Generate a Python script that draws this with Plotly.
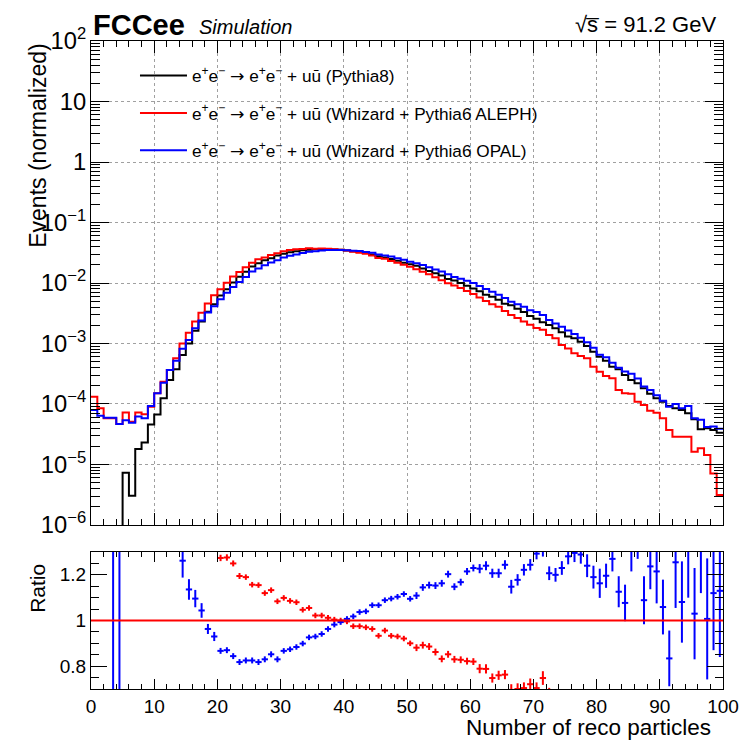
import plotly.graph_objects as go

# Number of reconstructed particles: 100 unit-width bins from 0 to 100
edges = list(range(0, 101))

# Normalized event fractions per bin
pythia8 = [
    0, 0, 0, 0, 0, 7.3e-6, 3.05e-6, 1.8e-5, 2.3e-5, 4.6e-5,
    6.7e-5, 1.24e-4, 2.49e-4, 3.74e-4, 6.46e-4, 1.0e-3, 1.63e-3, 2.3e-3, 3.36e-3, 4.44e-3,
    6.2e-3, 7.9e-3, 1.02e-2, 1.27e-2, 1.53e-2, 1.875e-2, 2.13e-2, 2.37e-2, 2.56e-2, 2.85e-2,
    3.05e-2, 3.22e-2, 3.35e-2, 3.47e-2, 3.55e-2, 3.61e-2, 3.64e-2, 3.63e-2, 3.59e-2, 3.53e-2,
    3.45e-2, 3.35e-2, 3.25e-2, 3.12e-2, 2.97e-2, 2.78e-2, 2.63e-2, 2.49e-2, 2.33e-2, 2.17e-2,
    2.05e-2, 1.92e-2, 1.73e-2, 1.58e-2, 1.45e-2, 1.33e-2, 1.16e-2, 1.10e-2, 1.0e-2, 8.97e-3,
    8.1e-3, 7.3e-3, 6.4e-3, 5.95e-3, 5.3e-3, 4.53e-3, 4.27e-3, 3.77e-3, 3.3e-3, 2.84e-3,
    2.56e-3, 2.25e-3, 2.03e-3, 1.79e-3, 1.54e-3, 1.30e-3, 1.22e-3, 1.07e-3, 9.1e-4, 7.33e-4,
    6.06e-4, 5.2e-4, 4.14e-4, 3.74e-4, 3.01e-4, 2.49e-4, 2.2e-4, 1.82e-4, 1.47e-4, 1.24e-4,
    1.09e-4, 9.27e-5, 8.47e-5, 7.96e-5, 7.0e-5, 5.58e-5, 3.81e-5, 3.96e-5, 3.72e-5, 3.36e-5,
]

whizard_aleph = [
    1.32e-4, 8.5e-5, 5.8e-5, 5.8e-5, 4.67e-5, 7.2e-5, 5.1e-5, 7.2e-5, 6.75e-5, 9.0e-5,
    1.5e-4, 2.34e-4, 3.65e-4, 5.69e-4, 1.0e-3, 1.51e-3, 2.3e-3, 3.23e-3, 4.6e-3, 6.3e-3,
    7.9e-3, 1.01e-2, 1.275e-2, 1.52e-2, 1.82e-2, 2.17e-2, 2.46e-2, 2.65e-2, 2.9e-2, 3.09e-2,
    3.35e-2, 3.50e-2, 3.62e-2, 3.63e-2, 3.75e-2, 3.69e-2, 3.72e-2, 3.67e-2, 3.60e-2, 3.53e-2,
    3.44e-2, 3.27e-2, 3.17e-2, 3.03e-2, 2.86e-2, 2.59e-2, 2.51e-2, 2.32e-2, 2.17e-2, 2.0e-2,
    1.85e-2, 1.69e-2, 1.54e-2, 1.40e-2, 1.25e-2, 1.11e-2, 9.9e-3, 9.1e-3, 8.3e-3, 7.4e-3,
    6.6e-3, 5.76e-3, 5.04e-3, 4.45e-3, 4.03e-3, 3.46e-3, 2.97e-3, 2.64e-3, 2.32e-3, 2.05e-3,
    1.80e-3, 1.68e-3, 1.38e-3, 1.22e-3, 9.4e-4, 8.3e-4, 6.88e-4, 6.21e-4, 5.69e-4, 4.14e-4,
    3.42e-4, 2.9e-4, 2.66e-4, 1.7e-4, 1.5e-4, 1.47e-4, 1.09e-4, 9.6e-5, 7.76e-5, 7.19e-5,
    5.8e-5, 3.72e-5, 2.88e-5, 2.88e-5, 2.88e-5, 1.63e-5, 1.85e-5, 1.44e-5, 7.1e-6, 3.13e-6,
]

whizard_opal = [
    7.96e-5, 6.4e-5, 5.9e-5, 5.9e-5, 4.67e-5, 5.4e-5, 4.9e-5, 6.2e-5, 5.8e-5, 9.3e-5,
    1.5e-4, 2.25e-4, 3.65e-4, 5.2e-4, 8.15e-4, 1.14e-3, 1.79e-3, 2.4e-3, 3.24e-3, 4.13e-3,
    5.38e-3, 6.87e-3, 8.6e-3, 1.04e-2, 1.26e-2, 1.55e-2, 1.74e-2, 1.97e-2, 2.18e-2, 2.37e-2,
    2.64e-2, 2.81e-2, 2.96e-2, 3.12e-2, 3.29e-2, 3.36e-2, 3.43e-2, 3.50e-2, 3.52e-2, 3.50e-2,
    3.47e-2, 3.41e-2, 3.37e-2, 3.24e-2, 3.17e-2, 2.97e-2, 2.86e-2, 2.73e-2, 2.57e-2, 2.42e-2,
    2.24e-2, 2.13e-2, 1.98e-2, 1.82e-2, 1.67e-2, 1.55e-2, 1.40e-2, 1.26e-2, 1.17e-2, 1.09e-2,
    9.96e-3, 8.96e-3, 7.94e-3, 7.18e-3, 6.4e-3, 5.64e-3, 4.9e-3, 4.44e-3, 4.03e-3, 3.53e-3,
    3.31e-3, 2.95e-3, 2.45e-3, 2.15e-3, 1.9e-3, 1.64e-3, 1.44e-3, 1.24e-3, 1.05e-3, 8.5e-4,
    6.5e-4, 5.95e-4, 4.8e-4, 3.97e-4, 3.45e-4, 3.15e-4, 2.65e-4, 1.95e-4, 1.7e-4, 1.4e-4,
    1.13e-4, 9.0e-5, 1.0e-4, 8.5e-5, 9.3e-5, 5.8e-5, 5.5e-5, 4.15e-5, 4.25e-5, 3.9e-5,
]

# Ratios to Pythia8 (None where the point is not shown)
N = None
ratio_aleph = [
    N, N, N, N, N, N, N, N, N, N,
    N, N, N, N, N, N, N, N, N, N,
    1.274, 1.276, 1.25, 1.195, 1.19, 1.157, 1.155, 1.12, 1.133, 1.084,
    1.099, 1.086, 1.08, 1.047, 1.055, 1.022, 1.022, 1.012, 1.004, 1.0,
    0.996, 0.975, 0.975, 0.970, 0.963, 0.933, 0.956, 0.933, 0.930, 0.921,
    0.90, 0.881, 0.892, 0.886, 0.862, 0.832, 0.852, 0.830, 0.828, 0.822,
    0.82, 0.789, 0.788, 0.748, 0.76, 0.763, 0.696, 0.70, 0.704, 0.721,
    0.704, 0.748, 0.68, N, N, N, N, N, N, N,
    N, N, N, N, N, N, N, N, N, N,
    N, N, N, N, N, N, N, N, N, N,
]
ratio_aleph_err = [
    0, 0, 0, 0, 0, 0, 0, 0, 0, 0,
    0, 0, 0, 0, 0, 0, 0, 0, 0, 0,
    0.014, 0.014, 0.013, 0.013, 0.012, 0.012, 0.012, 0.012, 0.012, 0.012,
    0.012, 0.012, 0.012, 0.012, 0.012, 0.012, 0.012, 0.012, 0.012, 0.012,
    0.012, 0.012, 0.012, 0.012, 0.012, 0.012, 0.012, 0.012, 0.012, 0.012,
    0.012, 0.015, 0.015, 0.015, 0.015, 0.015, 0.015, 0.015, 0.015, 0.015,
    0.015, 0.02, 0.02, 0.02, 0.02, 0.02, 0.025, 0.025, 0.025, 0.025,
    0.025, 0.03, 0.025, 0, 0, 0, 0, 0, 0, 0,
    0, 0, 0, 0, 0, 0, 0, 0, 0, 0,
    0, 0, 0, 0, 0, 0, 0, 0, 0, 0,
]

ratio_opal = [
    N, N, N, 200, 200, N, N, N, N, N,
    N, N, N, N, 1.262, 1.136, 1.096, 1.044, 0.963, 0.930,
    0.867, 0.870, 0.844, 0.818, 0.825, 0.825, 0.818, 0.830, 0.852, 0.830,
    0.867, 0.874, 0.884, 0.899, 0.926, 0.930, 0.941, 0.963, 0.982, 0.993,
    1.007, 1.018, 1.037, 1.040, 1.067, 1.067, 1.089, 1.096, 1.104, 1.116,
    1.095, 1.109, 1.145, 1.155, 1.153, 1.163, 1.203, 1.148, 1.168, 1.215,
    1.23, 1.227, 1.24, 1.207, 1.207, 1.244, 1.148, 1.178, 1.222, 1.244,
    1.293, 1.31, 1.207, 1.2, 1.23, 1.281, 1.296, 1.289, 1.24, 1.19,
    1.163, 1.196, 1.27, 1.126, 1.077, 1.33, 1.36, 1.089, 1.237, 1.215,
    1.059, 0.834, 1.255, 1.081, 1.33, 1.03, 1.35, 1.007, 1.12, 1.13,
]
ratio_opal_err = [
    0, 0, 0, 200, 200, 0, 0, 0, 0, 0,
    0, 0, 0, 0, 0.074, 0.045, 0.038, 0.032, 0.022, 0.02,
    0.013, 0.013, 0.013, 0.013, 0.013, 0.013, 0.013, 0.013, 0.013, 0.013,
    0.012, 0.012, 0.012, 0.012, 0.012, 0.012, 0.012, 0.012, 0.012, 0.012,
    0.012, 0.012, 0.012, 0.012, 0.012, 0.012, 0.012, 0.012, 0.012, 0.012,
    0.012, 0.015, 0.015, 0.015, 0.015, 0.015, 0.015, 0.015, 0.015, 0.015,
    0.015, 0.02, 0.02, 0.02, 0.02, 0.02, 0.03, 0.025, 0.025, 0.025,
    0.025, 0.03, 0.03, 0.03, 0.03, 0.035, 0.04, 0.04, 0.05, 0.05,
    0.064, 0.053, 0.055, 0.068, 0.08, 0.115, 0.09, 0.105, 0.1, 0.14,
    0.12, 0.122, 0.2, 0.178, 0.23, 0.2, 0.23, 0.265, 0.25, 0.29,
]

ARROW = "<span style='font-family:DejaVu Sans'>\u2192</span>"
PROC = ("e<sup>+</sup>e<sup>\u2212</sup> " + ARROW +
        " e<sup>+</sup>e<sup>\u2212</sup> + u\u016b")
labels = [
    PROC + " (Pythia8)",
    PROC + " (Whizard + Pythia6 ALEPH)",
    PROC + " (Whizard + Pythia6 OPAL)",
]
groups = ["pythia8", "aleph", "opal"]
colors = ["#000000", "#ff0000", "#0000ff"]

FONT = "Liberation Sans, Arial, Helvetica, sans-serif"
FLOOR = 1e-9  # empty bins sit below the visible log range

fig = go.Figure()

for vals, name, grp, col in zip([pythia8, whizard_aleph, whizard_opal], labels, groups, colors):
    ys = [v if v > 0 else FLOOR for v in vals]
    fig.add_trace(go.Scatter(
        x=edges, y=ys + [ys[-1]], mode="lines", line=dict(color=col, width=2, shape="hv"),
        name=name, legendgroup=grp, xaxis="x", yaxis="y",
    ))

centers = [e + 0.5 for e in edges[:-1]]
for r, err, col in [(ratio_aleph, ratio_aleph_err, colors[1]), (ratio_opal, ratio_opal_err, colors[2])]:
    fig.add_trace(go.Scatter(
        x=centers, y=r, mode="markers", marker=dict(size=1, color=col, opacity=0),
        error_y=dict(type="data", array=err, color=col, thickness=2, width=0),
        error_x=dict(type="constant", value=0.5, color=col, thickness=2, width=0),
        showlegend=False, xaxis="x2", yaxis="y2",
    ))

fig.add_shape(type="line", xref="x2", yref="y2", x0=0, x1=100, y0=1, y1=1,
              line=dict(color="#ff0000", width=2))

axis_common = dict(showline=True, linecolor="black", linewidth=1, mirror="ticks",
                   ticks="inside", tickcolor="black", zeroline=False)

fig.update_layout(
    width=751, height=747,
    margin=dict(l=91, r=28, t=41, b=58),
    paper_bgcolor="white", plot_bgcolor="white",
    font=dict(family=FONT, color="black", size=19),
    xaxis=dict(domain=[0, 1], anchor="y", range=[0, 100], dtick=10, tick0=0, ticklen=12,
               showticklabels=False, showgrid=True, gridcolor="#a0a0a0", griddash="dot", gridwidth=1,
               minor=dict(dtick=2, ticks="inside", ticklen=6, tickcolor="black", showgrid=False),
               **axis_common),
    yaxis=dict(domain=[0.2531, 1], anchor="x", type="log", range=[-6, 2], dtick=1,
               exponentformat="power", ticklen=18,
               showgrid=True, gridcolor="#a0a0a0", griddash="dot", gridwidth=1,
               minor=dict(ticks="inside", ticklen=9, tickcolor="black", showgrid=False),
               tickfont=dict(size=19), **axis_common),
    xaxis2=dict(domain=[0, 1], anchor="y2", matches="x", range=[0, 100], dtick=10, tick0=0,
                ticklen=10, showgrid=False, tickfont=dict(size=19),
                minor=dict(dtick=2, ticks="inside", ticklen=5, tickcolor="black", showgrid=False),
                **axis_common),
    yaxis2=dict(domain=[0, 0.2114], anchor="x2", range=[0.7, 1.3], dtick=0.2, tick0=0,
                ticklen=16, showgrid=False, tickfont=dict(size=19),
                minor=dict(dtick=0.05, ticks="inside", ticklen=8, tickcolor="black", showgrid=False),
                **axis_common),
    legend=dict(x=0.0696, y=0.974, xanchor="left", yanchor="top", bgcolor="rgba(0,0,0,0)",
                font=dict(size=17.2), itemwidth=47, tracegroupgap=12, traceorder="grouped"),
    showlegend=True,
)

ann = [
    dict(text="<b>FCCee</b>", x=0.0, y=1.0247, xanchor="left", yanchor="middle", font=dict(size=29)),
    dict(text="<i>Simulation</i>", x=0.168, y=1.021, xanchor="left", yanchor="middle", font=dict(size=20)),
    dict(text="\u221as\u0305 = 91.2 GeV", x=0.992, y=1.0262, xanchor="right", yanchor="middle", font=dict(size=22)),
    dict(text="Events (normalized)", x=-0.085, y=1.0, xanchor="center", yanchor="top", textangle=-90,
         font=dict(size=23)),
    dict(text="Ratio", x=-0.084, y=0.156, xanchor="center", yanchor="middle", textangle=-90,
         font=dict(size=21)),
    dict(text="Number of reco particles", x=0.984, y=-0.060, xanchor="right", yanchor="middle",
         font=dict(size=22.5)),
]
for a in ann:
    fig.add_annotation(xref="paper", yref="paper", showarrow=False, **a)

fig.write_html("out.html")
